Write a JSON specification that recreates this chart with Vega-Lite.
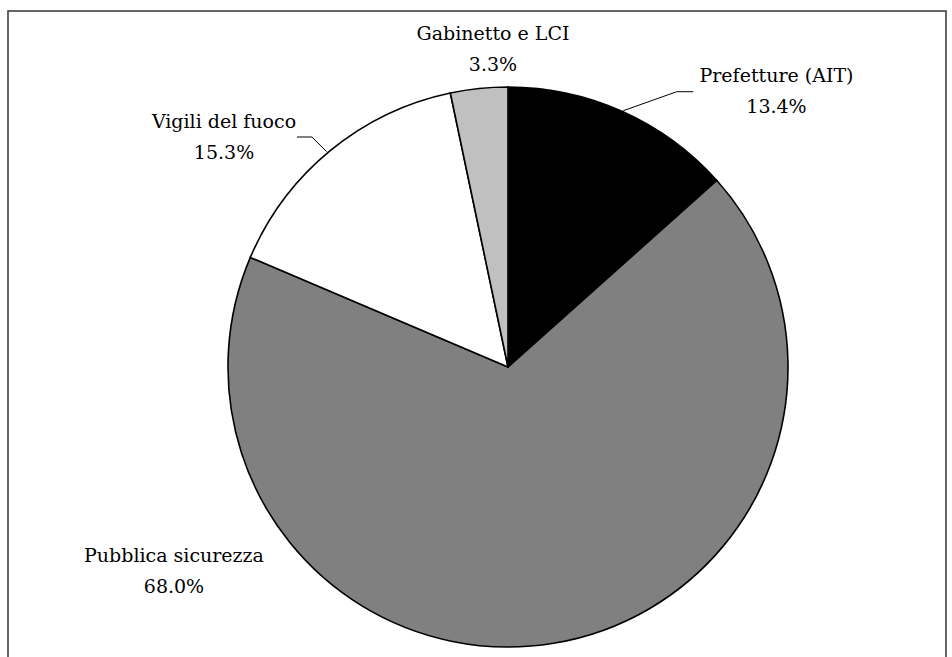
{
  "$schema": "https://vega.github.io/schema/vega-lite/v6.json",
  "width": 938,
  "height": 700,
  "autosize": {"type": "none"},
  "padding": {"left": 8, "top": 11, "right": 6, "bottom": 0},
  "background": "white",
  "config": {"font": "DejaVu Serif", "view": {"stroke": "#333333", "strokeWidth": 1.5}},
  "datasets": {
    "slices": [
      {"cat": "Prefetture (AIT)", "share": 13.4, "idx": 1},
      {"cat": "Pubblica sicurezza", "share": 68.0, "idx": 2},
      {"cat": "Vigili del fuoco", "share": 15.3, "idx": 3},
      {"cat": "Gabinetto e LCI", "share": 3.3, "idx": 4}
    ],
    "labels": [
      {"cat": "Gabinetto e LCI", "txt": "Gabinetto e LCI\n3.3%", "ux": -0.0536, "uy": 1.1679},
      {"cat": "Prefetture (AIT)", "txt": "Prefetture (AIT)\n13.4%", "ux": 0.9589, "uy": 1.0189},
      {"cat": "Vigili del fuoco", "txt": "Vigili del fuoco\n15.3%", "ux": -1.0143, "uy": 0.8525},
      {"cat": "Pubblica sicurezza", "txt": "Pubblica sicurezza\n68.0%", "ux": -1.1929, "uy": -0.6954}
    ],
    "leaders": [
      {"cat": "Prefetture (AIT)", "pt": 1, "ux": 0.4118, "uy": 0.9154},
      {"cat": "Prefetture (AIT)", "pt": 2, "ux": 0.6025, "uy": 0.9832},
      {"cat": "Prefetture (AIT)", "pt": 3, "ux": 0.6618, "uy": 0.9832},
      {"cat": "Vigili del fuoco", "pt": 1, "ux": -0.6475, "uy": 0.7689},
      {"cat": "Vigili del fuoco", "pt": 2, "ux": -0.7, "uy": 0.8214},
      {"cat": "Vigili del fuoco", "pt": 3, "ux": -0.7536, "uy": 0.8214}
    ]
  },
  "layer": [
    {
      "data": {"name": "slices"},
      "mark": {"type": "arc", "outerRadius": 280, "stroke": "black", "strokeWidth": 1.6},
      "encoding": {
        "x": {"datum": 0, "type": "quantitative", "scale": {"domain": [-1.78571, 1.56429], "nice": false, "zero": false}, "axis": null},
        "y": {"datum": 0, "type": "quantitative", "scale": {"domain": [-1.22857, 1.27143], "nice": false, "zero": false}, "axis": null},
        "theta": {"field": "share", "type": "quantitative", "stack": true},
        "order": {"field": "idx", "type": "quantitative"},
        "color": {
          "field": "cat",
          "type": "nominal",
          "scale": {
            "domain": ["Prefetture (AIT)", "Pubblica sicurezza", "Vigili del fuoco", "Gabinetto e LCI"],
            "range": ["#000000", "#808080", "#ffffff", "#c0c0c0"]
          },
          "legend": null
        }
      }
    },
    {
      "data": {"name": "leaders"},
      "mark": {"type": "line", "stroke": "black", "strokeWidth": 1},
      "encoding": {
        "x": {"field": "ux", "type": "quantitative", "scale": {"domain": [-1.78571, 1.56429], "nice": false, "zero": false}, "axis": null},
        "y": {"field": "uy", "type": "quantitative", "scale": {"domain": [-1.22857, 1.27143], "nice": false, "zero": false}, "axis": null},
        "detail": {"field": "cat", "type": "nominal"},
        "order": {"field": "pt", "type": "quantitative"}
      }
    },
    {
      "data": {"name": "labels"},
      "mark": {"type": "text", "align": "center", "baseline": "alphabetic", "fontSize": 19, "lineHeight": 31, "lineBreak": "\n", "font": "DejaVu Serif", "color": "black"},
      "encoding": {
        "x": {"field": "ux", "type": "quantitative", "scale": {"domain": [-1.78571, 1.56429], "nice": false, "zero": false}, "axis": null},
        "y": {"field": "uy", "type": "quantitative", "scale": {"domain": [-1.22857, 1.27143], "nice": false, "zero": false}, "axis": null},
        "text": {"field": "txt", "type": "nominal"}
      }
    }
  ]
}
